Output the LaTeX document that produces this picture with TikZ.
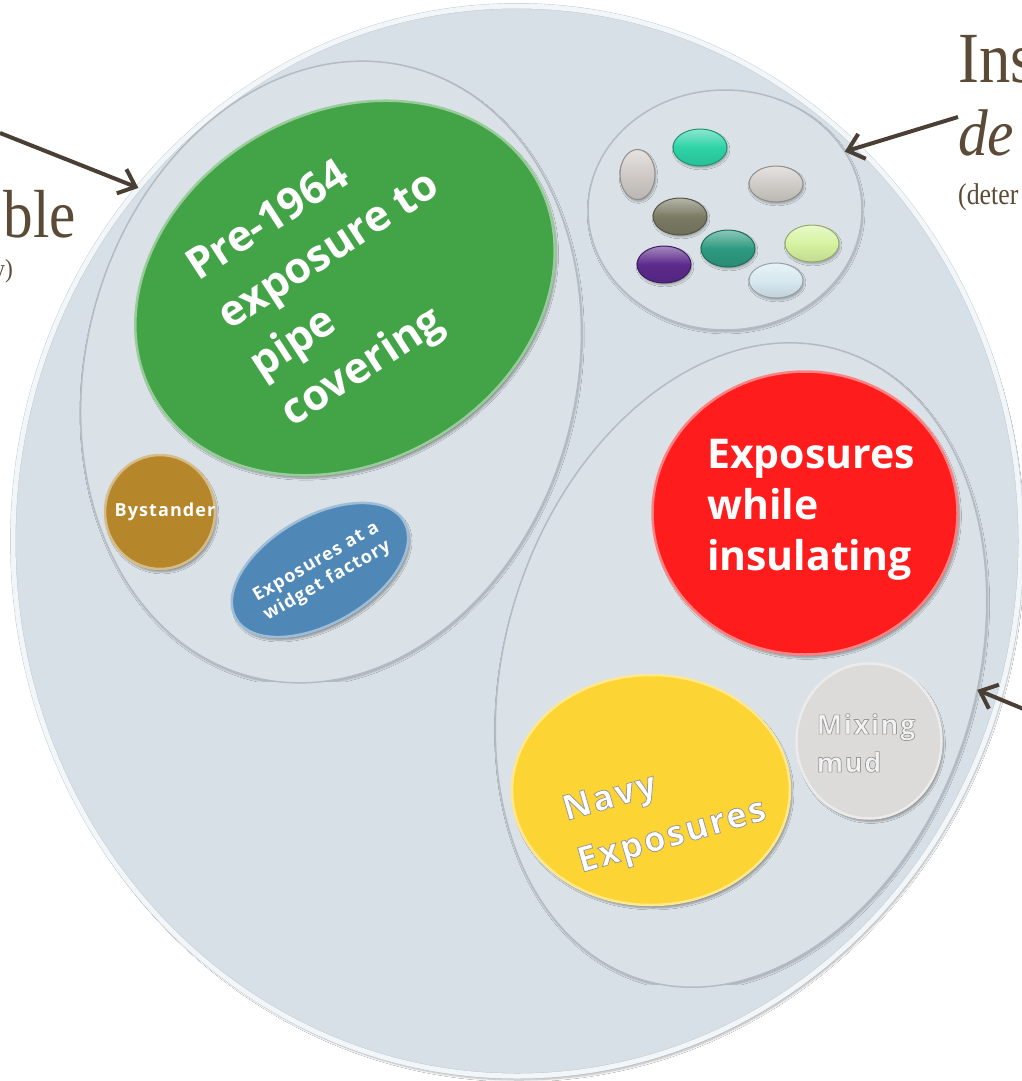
\documentclass[tikz,border=0pt]{standalone}
\usepackage{fontspec}
\setmainfont{Liberation Serif}
\newfontfamily\bub{Open Sans}
\newfontfamily\bubw{Open Sans}[LetterSpace=6]
\usetikzlibrary{shapes.geometric,arrows.meta,shadows.blur}
\definecolor{bigfill}{HTML}{D7E0E7}
\definecolor{bigline}{HTML}{BCC7CF}
\definecolor{grpfill}{HTML}{DAE2E7}
\definecolor{grpline}{HTML}{B3BCC2}
\definecolor{cgreen}{HTML}{43A347}
\definecolor{cred}{HTML}{FF1C1C}
\definecolor{cyellow}{HTML}{FCD535}
\definecolor{cmix}{HTML}{DCDBD9}
\definecolor{cgold}{HTML}{B5862A}
\definecolor{cblue}{HTML}{4F87B7}
\definecolor{psilver}{HTML}{CFCAC6}
\definecolor{pteal}{HTML}{2DD3A6}
\definecolor{pgray}{HTML}{CFCBC7}
\definecolor{polive}{HTML}{7A7A63}
\definecolor{pdteal}{HTML}{2E9A80}
\definecolor{plgreen}{HTML}{D6F3A0}
\definecolor{ppurple}{HTML}{5C2A8C}
\definecolor{plblue}{HTML}{D6E8F0}
\definecolor{brownt}{HTML}{5B4A35}
\definecolor{arrowc}{HTML}{4A3F35}
% text filled in the current colour and outlined in grey (PDF render mode 2)
\newcommand\outl[2]{\special{pdf:literal direct 2 Tr #1 w 0.6 0.6 0.6 RG}#2\special{pdf:literal direct 0 Tr}}
\begin{document}
\begin{tikzpicture}[x=1pt,y=-1pt,
  blob/.style={ellipse, inner sep=0pt, outer sep=0pt},
  group/.style={blob, fill=grpfill, draw=grpline, line width=1.5pt,
    blur shadow={shadow xshift=1pt, shadow yshift=-2pt, shadow blur steps=6, shadow opacity=25}},
  bubble/.style={blob, fill=#1, draw=#1!55!white, line width=2.5pt,
    blur shadow={shadow xshift=2pt, shadow yshift=-3pt, shadow blur steps=6, shadow opacity=35}},
  pill/.style={blob, top color=#1!55!white, bottom color=#1!90!black, middle color=#1,
    draw=#1!70!black, line width=1pt,
    blur shadow={shadow xshift=1pt, shadow yshift=-2pt, shadow blur steps=4, shadow opacity=30}},
  btext/.style={text=white, inner sep=0pt},
  serif/.style={text=brownt, inner sep=0pt},
  pointer/.style={draw=arrowc, line width=4pt, -{Straight Barb[length=15pt,width=26pt]}}
]
\useasboundingbox (0,0) rectangle (1022,1081);
\fill[white] (0,0) rectangle (1022,1081);

% big circle
\node[blob, minimum width=1008pt, minimum height=1070pt, fill=bigfill,
  draw=bigline, double=white!70!bigfill, double distance=5pt,
  blur shadow={shadow xshift=2pt, shadow yshift=-4pt, shadow blur steps=8, shadow opacity=30}]
  (bigc) at (517,541) {};

% groups
\node[group, minimum width=630pt, minimum height=490pt, rotate=75] (leftg) at (331,372) {};
\node[group, minimum width=660pt, minimum height=470pt, rotate=72] (rightg) at (741,665) {};
\node[group, minimum width=274pt, minimum height=240pt] (smallg) at (725,210) {};

% bubbles
\node[bubble=cgreen, minimum width=440pt, minimum height=350pt, rotate=30] (green) at (345,288) {};
\node[bubble=cgold, minimum width=110pt, minimum height=114pt] (byst) at (160,512) {};
\node[bubble=cblue, minimum width=194pt, minimum height=107pt, rotate=30] (widget) at (320,570) {};
\node[bubble=cred, minimum width=305pt, minimum height=283pt] (red) at (805,513) {};
\node[bubble=cyellow, minimum width=278pt, minimum height=230pt] (yellow) at (651,790) {};
\node[bubble=cmix, minimum width=145pt, minimum height=155pt] (mix) at (869,741) {};

% pills
\node[pill=psilver, minimum width=35pt, minimum height=50pt] (p1) at (637.5,174.5) {};
\node[pill=pteal, minimum width=54pt, minimum height=37pt] (p2) at (700,147.5) {};
\node[pill=pgray, minimum width=54pt, minimum height=36pt] (p3) at (776,184) {};
\node[pill=polive, minimum width=54pt, minimum height=37pt] (p4) at (680,216.5) {};
\node[pill=pdteal, minimum width=54pt, minimum height=37pt] (p5) at (728,248.5) {};
\node[pill=plgreen, minimum width=54pt, minimum height=37pt] (p6) at (812,243.5) {};
\node[pill=ppurple, minimum width=54pt, minimum height=37pt] (p7) at (664,264.5) {};
\node[pill=plblue, minimum width=54pt, minimum height=35pt] (p8) at (776,280.5) {};

% bubble texts
\node[btext, rotate=33, align=left, font=\bub\bfseries\fontsize{43}{58}\selectfont]
  (tgreen) at (346,277) {Pre-1964\\exposure to\\pipe\\covering};
\node[btext, font=\bubw\bfseries\fontsize{18}{20}\selectfont] (tbyst) at (165,512) {Bystander};
\node[btext, rotate=30, align=center, font=\bubw\bfseries\fontsize{18}{22}\selectfont]
  (twidget) at (322,572) {Exposures at a\\widget factory};
\node[btext, align=left, font=\bub\bfseries\fontsize{41}{51}\selectfont]
  (tred) at (811,510) {Exposures\\while\\insulating};
\node[btext, rotate=16, align=left, font=\bubw\bfseries\fontsize{35}{54}\selectfont]
  (tyellow) at (665,812) {\outl{0.8}{Navy}\\\outl{0.8}{Exposures}};
\node[inner sep=0pt, text=white!95!black, align=left, font=\bubw\bfseries\fontsize{27}{38}\selectfont]
  (tmix) at (866,743) {\outl{0.7}{Mixing}\\\outl{0.7}{mud}};

% outside labels
\node[serif, anchor=base east, font=\fontsize{68}{70}\selectfont] (lble) at (76,237) {\scalebox{0.87}[1]{ble}};
\node[serif, anchor=base east, font=\fontsize{26}{28}\selectfont] (ly) at (13,277) {\scalebox{0.9}[1]{y)}};
\node[serif, anchor=base west, font=\fontsize{72}{74}\selectfont] (lins) at (958,82) {\scalebox{0.87}[1]{Ins}};
\node[serif, anchor=base west, font=\itshape\fontsize{66}{68}\selectfont] (lde) at (958,155) {\scalebox{0.9}[1]{de}};
\node[serif, anchor=base west, font=\fontsize{30}{32}\selectfont] (ldet) at (958,204) {\scalebox{0.86}[1]{(deter}};

% arrows
\coordinate (startL) at (0,133);
\coordinate (startT) at (958,117);
\coordinate (startR) at (1026,710);
\draw[pointer] (startL) -- (bigc.137.5);
\draw[pointer] (startT) -- (smallg.26);
\draw[pointer] (startR) -- (rightg.-78.4);
\end{tikzpicture}
\end{document}
